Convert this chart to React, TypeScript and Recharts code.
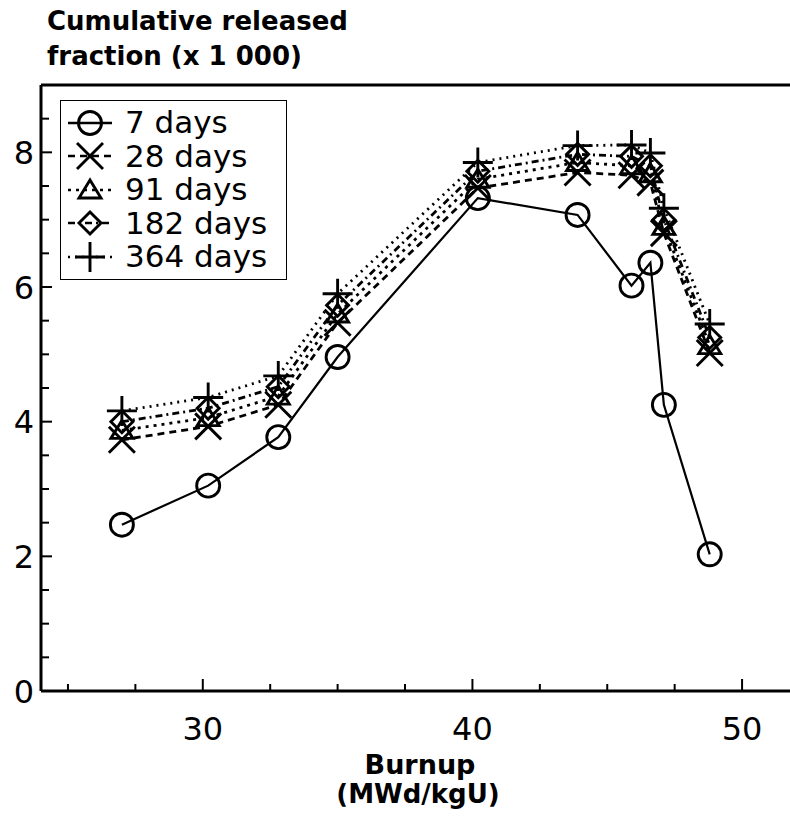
import { LineChart, Line, XAxis, YAxis, ReferenceLine, Legend } from "recharts";

// burnup (MWd/kgU) and cumulative released fraction (x 1000) per leaching time
const burnup = [27.0, 30.2, 32.8, 35.0, 40.2, 43.9, 45.9, 46.6, 47.1, 48.8];
const days7 = [2.47, 3.05, 3.77, 4.96, 7.32, 7.07, 6.02, 6.36, 4.25, 2.03];
const days28 = [3.73, 3.93, 4.25, 5.47, 7.47, 7.7, 7.66, 7.55, 6.8, 5.02];
const days91 = [3.87, 4.06, 4.38, 5.6, 7.6, 7.85, 7.8, 7.68, 6.9, 5.13];
const days182 = [4.0, 4.2, 4.52, 5.73, 7.72, 7.97, 7.94, 7.8, 7.0, 5.25];
const days364 = [4.16, 4.36, 4.68, 5.9, 7.85, 8.1, 8.11, 7.99, 7.17, 5.45];

const xTicks = [25, 27.5, 30, 32.5, 35, 37.5, 40, 42.5, 45, 47.5, 50];
const xLabels = [30, 40, 50];
const yTicks = [0, 0.5, 1, 1.5, 2, 2.5, 3, 3.5, 4, 4.5, 5, 5.5, 6, 6.5, 7, 7.5, 8, 8.5];
const yLabels = [0, 2, 4, 6, 8];

const FONT = "DejaVu Sans";

type Kind = "circle" | "cross" | "triangle" | "diamond" | "plus";

const series: { key: string; name: string; kind: Kind; dash?: string }[] = [
  { key: "d7", name: "7 days", kind: "circle" },
  { key: "d28", name: "28 days", kind: "cross", dash: "7 5" },
  { key: "d91", name: "91 days", kind: "triangle", dash: "3 5" },
  { key: "d182", name: "182 days", kind: "diamond", dash: "7 4 2 4" },
  { key: "d364", name: "364 days", kind: "plus", dash: "2 5" },
];

const data = burnup.map((b, i) => ({
  burnup: b,
  d7: days7[i],
  d28: days28[i],
  d91: days91[i],
  d182: days182[i],
  d364: days364[i],
}));

function Marker({ kind, x, y }: { kind: Kind; x: number; y: number }) {
  const common = { stroke: "#000", strokeWidth: 2.9, fill: "none" };
  if (kind === "circle") return <circle cx={x} cy={y} r={11.5} {...common} />;
  if (kind === "cross")
    return (
      <path
        d={`M${x - 13},${y - 13}L${x + 13},${y + 13}M${x - 13},${y + 13}L${x + 13},${y - 13}`}
        {...common}
      />
    );
  if (kind === "triangle")
    return <path d={`M${x},${y - 10}L${x + 11},${y + 8}L${x - 11},${y + 8}Z`} {...common} />;
  if (kind === "diamond")
    return <path d={`M${x},${y - 11}L${x + 11},${y}L${x},${y + 11}L${x - 11},${y}Z`} {...common} />;
  return <path d={`M${x - 15},${y}L${x + 15},${y}M${x},${y - 15}L${x},${y + 15}`} {...common} />;
}

const XTick = (props: any) => {
  const { x, y, payload } = props;
  const major = xLabels.includes(payload.value);
  return (
    <g>
      <line x1={x} x2={x} y1={y} y2={y - (major ? 12 : 7)} stroke="#000" strokeWidth={2} />
      {major && (
        <text x={x} y={y + 49} textAnchor="middle" fontFamily={FONT} fontSize={32} fill="#000">
          {payload.value}
        </text>
      )}
    </g>
  );
};

const YTick = (props: any) => {
  const { x, y, payload } = props;
  const major = yLabels.includes(payload.value);
  return (
    <g>
      <line x1={x} x2={x + (major ? 11 : 8)} y1={y} y2={y} stroke="#000" strokeWidth={2} />
      {major && (
        <text x={x - 7} y={y} dy="0.36em" textAnchor="end" fontFamily={FONT} fontSize={32} fill="#000">
          {payload.value}
        </text>
      )}
    </g>
  );
};

const renderLegend = () => (
  <div
    style={{
      width: 227,
      boxSizing: "border-box",
      border: "1.5px solid #000",
      background: "#fff",
      padding: "5px 0 5px 7px",
      fontFamily: FONT,
      fontSize: 31,
      color: "#000",
    }}
  >
    {series.map((s) => (
      <div key={s.key} style={{ display: "flex", alignItems: "center", height: 33.5 }}>
        <svg width={44} height={34} style={{ overflow: "visible" }}>
          <line x1={0} x2={44} y1={17} y2={17} stroke="#000" strokeWidth={2.6} strokeDasharray={s.dash} />
          <Marker kind={s.kind} x={22} y={17} />
        </svg>
        <span style={{ marginLeft: 13, lineHeight: "33.5px" }}>{s.name}</span>
      </div>
    ))}
  </div>
);

export default function App() {
  return (
    <div style={{ position: "absolute", left: 0, top: 0, width: 790, height: 818, overflow: "hidden", background: "#fff" }}>
      <LineChart width={800} height={818} data={data} margin={{ top: 85, right: 4, bottom: 0, left: 0 }}>
        <XAxis
          dataKey="burnup"
          type="number"
          domain={[24, 52]}
          ticks={xTicks}
          interval={0}
          height={127}
          tickSize={0}
          tickMargin={0}
          tickLine={false}
          tick={XTick}
          axisLine={{ stroke: "#000", strokeWidth: 3 }}
        />
        <YAxis
          type="number"
          domain={[0, 9]}
          ticks={yTicks}
          interval={0}
          width={41}
          tickSize={0}
          tickMargin={0}
          tickLine={false}
          tick={YTick}
          axisLine={{ stroke: "#000", strokeWidth: 3 }}
        />
        <ReferenceLine y={9} stroke="#000" strokeWidth={3} />
        <Legend
          layout="horizontal"
          verticalAlign="middle"
          align="center"
          content={renderLegend}
          wrapperStyle={{ left: 60, top: 100, width: "auto", height: "auto" }}
        />
        {series.map((s) => (
          <Line
            key={s.key}
            dataKey={s.key}
            name={s.name}
            stroke="#000"
            strokeWidth={s.dash ? 2.8 : 2.2}
            strokeDasharray={s.dash}
            isAnimationActive={false}
            activeDot={false}
            dot={(p: any) => <Marker key={`${s.key}-${p.index}`} kind={s.kind} x={p.cx} y={p.cy} />}
          />
        ))}
      </LineChart>
      <svg width={790} height={818} style={{ position: "absolute", left: 0, top: 0, pointerEvents: "none" }}>
        <g fontFamily={FONT} fontWeight="bold" fill="#000">
          <text x={47} y={30} fontSize={26}>Cumulative released</text>
          <text x={47} y={65} fontSize={26}>fraction (x 1 000)</text>
          <text x={420} y={774} fontSize={27} textAnchor="middle">Burnup</text>
          <text x={418} y={803} fontSize={26} textAnchor="middle">(MWd/kgU)</text>
        </g>
      </svg>
    </div>
  );
}
